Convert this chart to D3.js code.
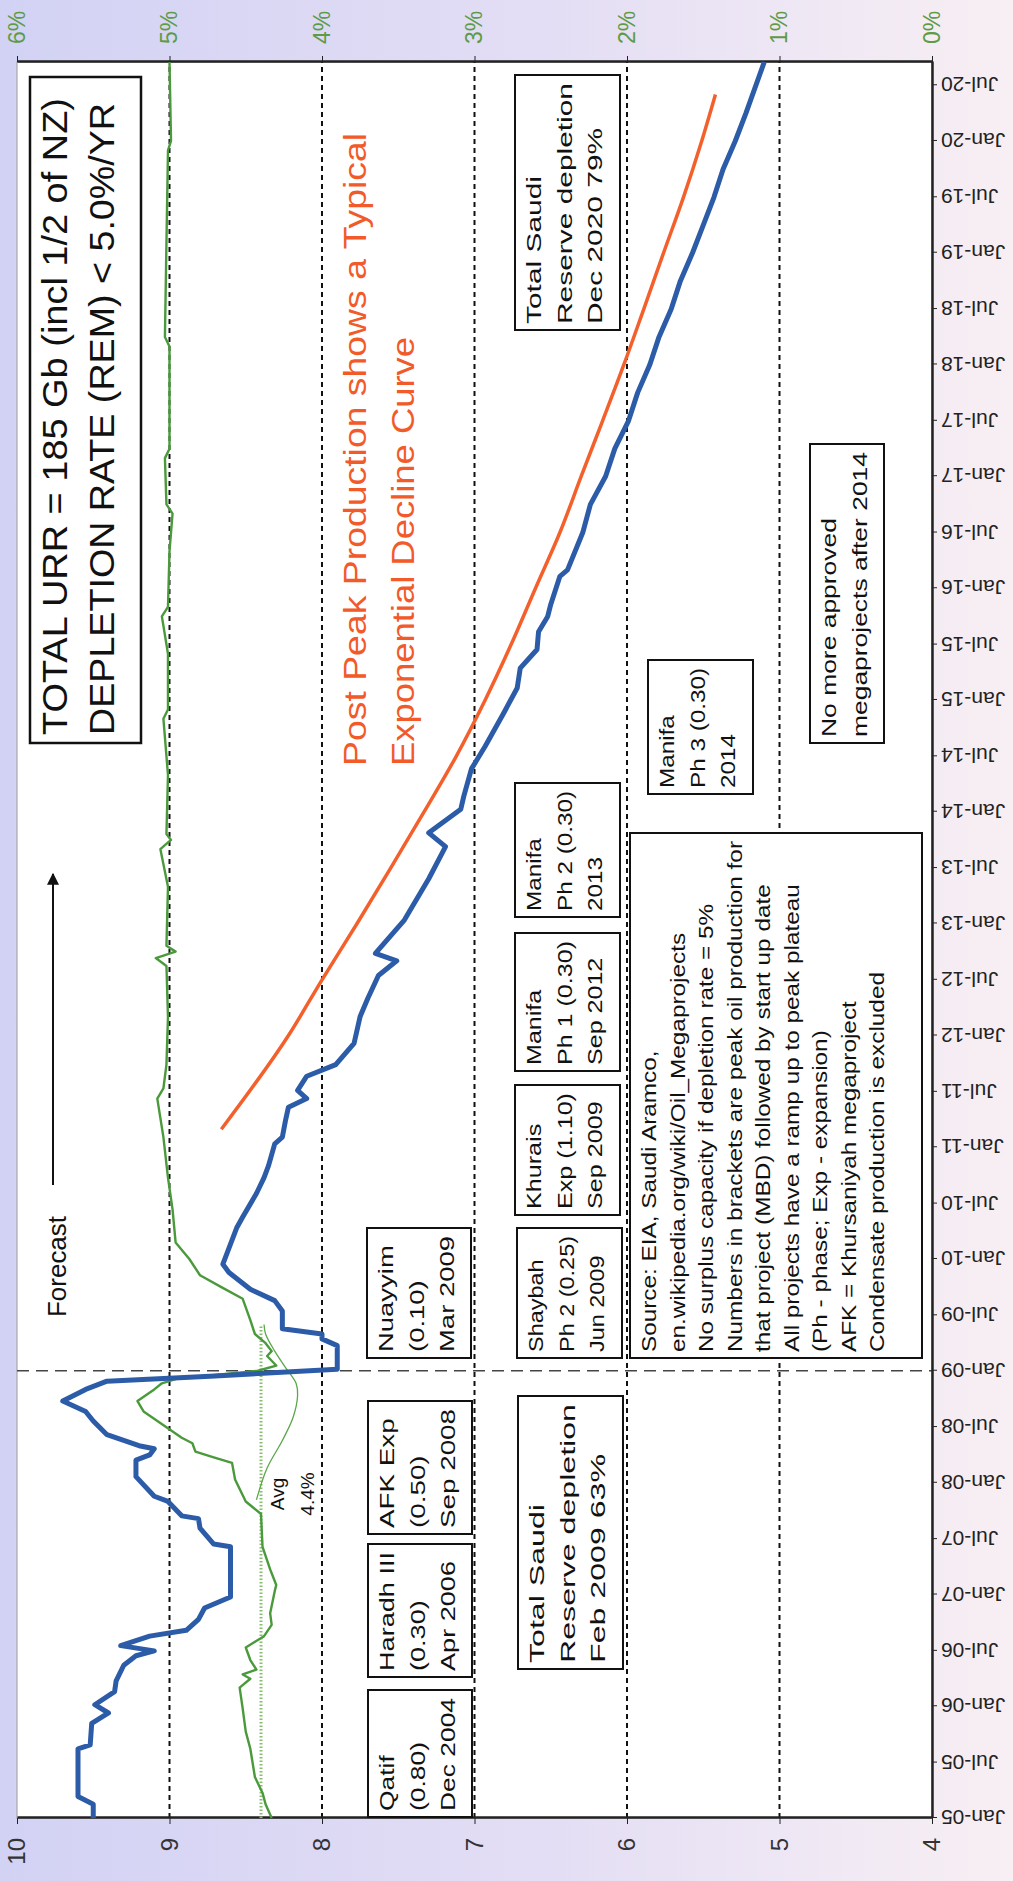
<!DOCTYPE html>
<html>
<head>
<meta charset="utf-8">
<style>
  body { margin: 0; background: #fff; }
  .axis text { font-family: 'Liberation Sans', Arial, sans-serif; }
  .axis path, .axis line { stroke: #222; }
  .note { font-family: 'Liberation Sans Narrow', 'Arial Narrow', 'Liberation Sans', Arial, sans-serif; font-size: 21px; fill: #111; }
  .grid { stroke: #111; stroke-width: 2px; stroke-dasharray: 5,4; }
</style>
</head>
<body>
<svg id="chart"></svg>
<script src="https://d3js.org/d3.v7.min.js"></script>
<script>
    // ---- data ----
    var blueDates = ['2005-01-01','2005-02-15','2005-03-12','2005-08-15','2005-08-28','2005-11-06','2005-12-10','2006-01-06','2006-02-18','2006-03-25',
        '2006-05-15','2006-06-15','2006-07-01','2006-07-18','2006-08-18','2006-09-06','2006-10-12','2006-11-18','2006-12-24','2007-06-06',
        '2007-06-15','2007-08-06','2007-09-06','2007-09-15','2007-11-01','2007-11-18','2008-01-21','2008-03-15','2008-04-01','2008-04-21',
        '2008-05-01','2008-06-06','2008-07-21','2008-08-21','2008-09-24','2008-11-01','2008-11-28','2008-12-15','2009-01-06','2009-03-24',
        '2009-04-15','2009-05-01','2009-05-18','2009-07-15','2009-08-18','2009-09-24','2009-11-18','2009-12-15','2010-04-12','2010-05-18',
        '2010-08-03','2010-09-24','2010-11-03','2011-01-12','2011-02-03','2011-03-28','2011-05-12','2011-06-09','2011-07-06','2011-08-21',
        '2011-09-28','2011-12-06','2012-03-03','2012-05-01','2012-07-15','2012-09-01','2012-09-25','2013-01-12','2013-05-27','2013-09-09',
        '2013-10-24','2014-01-09','2014-02-21','2014-05-21','2014-08-03','2014-11-18','2015-02-09','2015-04-15','2015-06-15','2015-08-12',
        '2015-10-01','2015-11-09','2016-02-09','2016-03-01','2016-07-01','2016-10-01','2017-01-01','2017-04-01','2017-07-01','2017-10-01',
        '2018-01-01','2018-04-01','2018-07-01','2018-10-01','2019-01-01','2019-04-01','2019-07-01','2019-10-01','2020-01-01','2020-04-01',
        '2020-09-15'];
    var blueValues = [9.50,9.50,9.60,9.60,9.52,9.51,9.40,9.49,9.36,9.35,
        9.30,9.22,9.10,9.32,9.13,8.89,8.81,8.77,8.60,8.60,
        8.71,8.80,8.81,8.92,9.01,9.10,9.22,9.22,9.13,9.10,
        9.20,9.41,9.50,9.55,9.70,9.55,9.41,8.70,7.90,7.90,
        8.00,8.00,8.26,8.26,8.31,8.47,8.61,8.65,8.56,8.52,
        8.43,8.38,8.35,8.31,8.26,8.24,8.22,8.10,8.16,8.10,
        7.91,7.79,7.75,7.70,7.63,7.51,7.65,7.46,7.30,7.19,
        7.30,7.09,7.07,7.02,6.93,6.81,6.72,6.70,6.59,6.58,
        6.52,6.50,6.44,6.39,6.29,6.24,6.14,6.08,5.99,5.93,
        5.85,5.79,5.71,5.65,5.57,5.50,5.43,5.37,5.29,5.22,
        5.10];

    var greenDates = ['2005-01-01','2005-02-15','2005-03-24','2005-05-15','2005-08-15','2005-10-10','2005-12-24','2006-03-03','2006-04-01','2006-04-15',
        '2006-05-01','2006-06-01','2006-07-12','2006-08-18','2006-09-24','2006-11-01','2007-01-12','2007-02-01','2007-03-24','2007-06-06',
        '2007-09-21','2007-11-01','2008-01-12','2008-03-06','2008-03-24','2008-04-12','2008-05-09','2008-05-27','2008-08-21','2008-09-24',
        '2008-11-01','2008-11-21','2008-12-06','2009-01-01','2009-01-18','2009-02-18','2009-03-06','2009-04-01','2009-05-01','2009-06-15',
        '2009-08-24','2009-10-01','2009-11-09','2010-01-01','2010-02-24','2010-06-12','2010-09-24','2011-02-03','2011-06-09','2011-07-12',
        '2011-09-28','2012-03-01','2012-08-15','2012-09-10','2012-10-01','2012-10-20','2013-05-01','2013-09-01','2013-10-01','2013-10-20',
        '2014-05-01','2014-11-01','2014-12-01','2015-06-01','2015-10-01','2015-11-01','2016-05-01','2016-09-01','2016-10-01','2017-03-01',
        '2017-04-01','2018-03-01','2018-04-01','2019-02-01','2019-12-01','2020-01-01','2020-09-15'];
    var greenRates = [4.33,4.37,4.39,4.44,4.47,4.50,4.52,4.54,4.47,4.52,
        4.43,4.47,4.50,4.38,4.33,4.34,4.31,4.30,4.34,4.39,
        4.40,4.50,4.57,4.59,4.71,4.83,4.85,4.92,5.17,5.21,
        5.10,5.05,4.95,4.42,4.30,4.36,4.33,4.37,4.44,4.47,
        4.52,4.66,4.80,4.87,4.96,4.98,5.01,5.04,5.08,5.04,
        5.02,5.01,5.02,5.09,4.96,5.02,5.01,5.06,4.99,5.02,
        5.01,5.04,5.01,5.01,5.05,5.01,5.00,4.98,5.02,5.03,
        5.00,5.00,5.03,5.02,5.01,4.99,5.00];

    var avgDates = ['2005-01-01','2009-06-01'];
    var avgRate = 4.4;

    var bendDates = ['2007-11-06','2008-02-18','2008-05-18','2008-08-01','2008-10-12','2008-11-21','2009-01-12','2009-03-06','2009-05-01','2009-06-01'];
    var bendRates = [4.43,4.36,4.26,4.19,4.16,4.17,4.24,4.31,4.37,4.38];

    var fitDates = ['2011-03-01','2012-01-01','2012-07-01','2013-01-01','2013-07-01','2014-01-01','2014-07-01','2015-01-01','2015-07-01','2016-01-01',
        '2016-07-01','2017-01-01','2017-07-01','2018-01-01','2018-07-01','2019-01-01','2019-07-01','2020-01-01','2020-06-01'];
    var fitValues = [8.66,8.22,8.00,7.77,7.55,7.33,7.12,6.93,6.76,6.60,
        6.44,6.30,6.16,6.02,5.89,5.76,5.63,5.51,5.42];

    var leftTicks = [4,5,6,7,8,9,10];
    var rightTicks = [0,1,2,3,4,5,6];
    var gridValues = [5,6,7,8,9];
    var forecastStart = '2009-01-01';

    var titleLines = ['TOTAL URR = 185 Gb (incl 1/2 of NZ)', 'DEPLETION RATE (REM) < 5.0%/YR'];
    var curveNote = ['Post Peak Production shows a Typical', 'Exponential Decline Curve'];
    var sourceLines = ['Source: EIA, Saudi Aramco,', 'en.wikipedia.org/wiki/Oil_Megaprojects', 'No surplus capacity if depletion rate = 5%',
        'Numbers in brackets are peak oil production for', 'that project (MBD) followed by start up date', 'All projects have a ramp up to peak plateau',
        '(Ph - phase; Exp - expansion)', 'AFK = Khursaniyah megaproject', 'Condensate production is excluded'];
    var projectLines = [
        ['Qatif', '(0.80)', 'Dec 2004'],
        ['Haradh III', '(0.30)', 'Apr 2006'],
        ['AFK Exp', '(0.50)', 'Sep 2008'],
        ['Nuayyim', '(0.10)', 'Mar 2009'],
        ['Total Saudi', 'Reserve depletion', 'Feb 2009 63%'],
        ['Shaybah', 'Ph 2 (0.25)', 'Jun 2009'],
        ['Khurais', 'Exp (1.10)', 'Sep 2009'],
        ['Manifa', 'Ph 1 (0.30)', 'Sep 2012'],
        ['Manifa', 'Ph 2 (0.30)', '2013'],
        ['Manifa', 'Ph 3 (0.30)', '2014'],
        ['No more approved', 'megaprojects after 2014'],
        ['Total Saudi', 'Reserve depletion', 'Dec 2020 79%']
    ];

    // ---- layout (chart is drawn unrotated, then turned a quarter turn) ----
    var W = 1881, H = 1013;
    var gLeft = 63, gRight = 1819, gTop = 17, gBottom = 932;
    var parse = d3.timeParse('%Y-%m-%d');

    var svg = d3.select('#chart').attr('width', H).attr('height', W);
    var defs = svg.append('defs');
    var grad = defs.append('linearGradient').attr('id', 'bg')
        .attr('x1', '0%').attr('x2', '100%').attr('y1', '0%').attr('y2', '0%');
    grad.append('stop').attr('offset', '0%').attr('stop-color', '#d2d2f4');
    grad.append('stop').attr('offset', '55%').attr('stop-color', '#e4def5');
    grad.append('stop').attr('offset', '100%').attr('stop-color', '#f8eff3');
    defs.append('marker').attr('id', 'arrow').attr('viewBox', '0 0 10 10')
        .attr('refX', 9).attr('refY', 5).attr('markerWidth', 6).attr('markerHeight', 6)
        .attr('orient', 'auto')
        .append('path').attr('d', 'M0,0 L10,5 L0,10 z').attr('fill', '#111');
    svg.append('rect').attr('width', H).attr('height', W).attr('fill', 'url(#bg)');

    var chart = svg.append('g').attr('transform', 'translate(0,' + W + ') rotate(-90)');

    var x = d3.scaleTime().domain([parse('2005-01-01'), parse('2020-09-15')]).range([gLeft, gRight]);
    var y = d3.scaleLinear().domain([4, 10]).range([gBottom, gTop]);
    var y2 = d3.scaleLinear().domain([0, 6]).range([gBottom, gTop]);

    chart.append('rect').attr('x', gLeft).attr('y', gTop)
        .attr('width', gRight - gLeft).attr('height', gBottom - gTop)
        .attr('fill', '#fff').attr('stroke', '#999').attr('stroke-width', 1);

    // grid
    chart.selectAll('.grid').data(gridValues).enter().append('line')
        .attr('class', 'grid')
        .attr('x1', gLeft).attr('x2', gRight)
        .attr('y1', function(d){ return y(d); }).attr('y2', function(d){ return y(d); });
    chart.append('line')
        .attr('x1', x(parse(forecastStart))).attr('x2', x(parse(forecastStart)))
        .attr('y1', gTop).attr('y2', gBottom)
        .attr('stroke', '#444').attr('stroke-width', 1.6).attr('stroke-dasharray', '12,7');

    // axes
    var xAxis = d3.axisBottom(x).ticks(d3.timeMonth.every(6))
        .tickFormat(d3.timeFormat('%b-%y')).tickSize(5).tickSizeOuter(0);
    var axisX = chart.append('g').attr('class', 'axis')
        .attr('transform', 'translate(0,' + gBottom + ')').call(xAxis);
    axisX.select('.domain').attr('stroke-width', 2.5);
    axisX.selectAll('text')
        .attr('transform', 'rotate(-90)').attr('x', -9).attr('y', 0).attr('dy', '0.35em')
        .style('text-anchor', 'end').style('font-size', '21px').attr('fill', '#222');

    var axisY = chart.append('g').attr('class', 'axis')
        .attr('transform', 'translate(' + gLeft + ',0)')
        .call(d3.axisLeft(y).tickValues(leftTicks).tickFormat(d3.format('d')).tickSize(6).tickSizeOuter(0).tickPadding(14));
    axisY.select('.domain').attr('stroke-width', 2.5);
    axisY.selectAll('text').style('font-size', '24px').attr('fill', '#333');

    var axisY2 = chart.append('g').attr('class', 'axis')
        .attr('transform', 'translate(' + gRight + ',0)')
        .call(d3.axisRight(y2).tickValues(rightTicks).tickFormat(function(d){ return d + '%'; }).tickSize(6).tickSizeOuter(0).tickPadding(12));
    axisY2.select('.domain').attr('stroke-width', 2.5);
    axisY2.selectAll('text').style('font-size', '23px').attr('fill', '#5d9b45');

    // series
    function rows(dates, vals) {
        return dates.map(function(d, i){ return { date: parse(d), v: vals[i] }; });
    }
    var lineL = d3.line().x(function(d){ return x(d.date); }).y(function(d){ return y(d.v); });
    var lineR = d3.line().x(function(d){ return x(d.date); }).y(function(d){ return y2(d.v); });
    var bendR = d3.line().curve(d3.curveCatmullRom).x(function(d){ return x(d.date); }).y(function(d){ return y2(d.v); });
    var smoothL = d3.line().curve(d3.curveMonotoneX).x(function(d){ return x(d.date); }).y(function(d){ return y(d.v); });

    chart.append('path').datum(rows(avgDates, [avgRate, avgRate]))
        .attr('d', lineR).attr('fill', 'none')
        .attr('stroke', '#86c06e').attr('stroke-width', 3).attr('stroke-dasharray', '1.5,2');
    chart.append('path').datum(rows(bendDates, bendRates))
        .attr('d', bendR).attr('fill', 'none')
        .attr('stroke', '#5aa84a').attr('stroke-width', 1.3);
    chart.append('path').datum(rows(greenDates, greenRates))
        .attr('d', lineR).attr('fill', 'none')
        .attr('stroke', '#4a9a3c').attr('stroke-width', 2.4).attr('stroke-linejoin', 'round');
    chart.append('path').datum(rows(fitDates, fitValues))
        .attr('d', smoothL)
        .attr('fill', 'none').attr('stroke', '#f4602c').attr('stroke-width', 3.5);
    chart.append('path').datum(rows(blueDates, blueValues))
        .attr('d', lineL).attr('fill', 'none')
        .attr('stroke', '#2c5ca8').attr('stroke-width', 5).attr('stroke-linejoin', 'round');

    // text helpers
    function fit(sel, w) {
        sel.attr('textLength', w).attr('lengthAdjust', 'spacingAndGlyphs');
    }

    // title box
    chart.append('rect').attr('x', 1138).attr('y', 30).attr('width', 666).attr('height', 111)
        .attr('fill', '#fff').attr('stroke', '#111').attr('stroke-width', 2.5);
    titleLines.forEach(function(t, i){
        var s = chart.append('text').attr('x', 1146).attr('y', 67 + i * 47)
            .style('font-family', "'Liberation Sans', Arial, sans-serif").style('font-size', '35px').attr('fill', '#111').text(t);
        fit(s, i ? 632 : 637);
    });

    // exponential note
    curveNote.forEach(function(t, i){
        var s = chart.append('text').attr('x', 1115).attr('y', 366 + i * 48)
            .style('font-family', "'Liberation Sans', Arial, sans-serif").style('font-size', '32px').attr('fill', '#f25a2a').text(t);
        fit(s, i ? 429 : 633);
    });

    // forecast marker
    var fc = chart.append('text').attr('x', 564).attr('y', 66)
        .style('font-family', "'Liberation Sans Narrow', 'Liberation Sans', sans-serif").style('font-size', '26px').attr('fill', '#111').text('Forecast');
    fit(fc, 101);
    chart.append('line').attr('x1', 696).attr('x2', 1007).attr('y1', 53).attr('y2', 53)
        .attr('stroke', '#111').attr('stroke-width', 2).attr('marker-end', 'url(#arrow)');

    // average label
    ['Avg', '4.4%'].forEach(function(t, i){
        chart.append('text').attr('x', 387).attr('y', 284 + i * 30).attr('text-anchor', 'middle')
            .attr('class', 'note').style('font-size', '19px').text(t);
    });

    // project boxes
    var boxes = [
        { u: 64,   v: 368, w: 127, h: 104 },
        { u: 204,  v: 368, w: 133, h: 104 },
        { u: 347,  v: 368, w: 133, h: 104 },
        { u: 523,  v: 367, w: 130, h: 104 },
        { u: 212,  v: 518, w: 273, h: 105 },
        { u: 523,  v: 517, w: 130, h: 105 },
        { u: 666,  v: 515, w: 130, h: 105 },
        { u: 810,  v: 515, w: 138, h: 105 },
        { u: 964,  v: 515, w: 134, h: 105 },
        { u: 1087, v: 648, w: 134, h: 105 },
        { u: 1138, v: 810, w: 299, h: 74 },
        { u: 1551, v: 515, w: 255, h: 105 }
    ];
    function drawBox(lines, b, step) {
        var g = chart.append('g').attr('transform', 'translate(' + b.u + ',' + b.v + ')');
        g.append('rect').attr('width', b.w).attr('height', b.h)
            .attr('fill', '#fff').attr('stroke', '#111').attr('stroke-width', 2);
        var texts = lines.map(function(t, i){
            return g.append('text').attr('class', 'note').attr('x', 6).attr('y', 26 + i * step).text(t);
        });
        var widths = texts.map(function(s){ return s.node().getComputedTextLength(); });
        var k = (b.w - 14) / d3.max(widths);
        texts.forEach(function(s, i){ s.attr('textLength', widths[i] * k).attr('lengthAdjust', 'spacingAndGlyphs'); });
    }
    projectLines.forEach(function(lines, i){ drawBox(lines, boxes[i], 30.5); });
    drawBox(sourceLines, { u: 523, v: 630, w: 525, h: 292 }, 28.5);
</script>
</body>
</html>
